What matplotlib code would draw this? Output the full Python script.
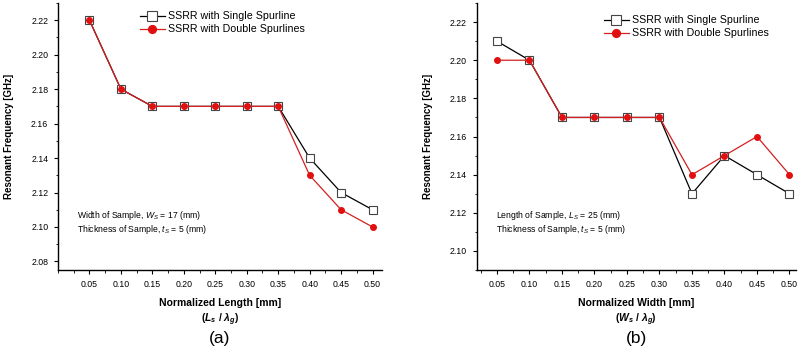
import matplotlib
matplotlib.use("Agg")
import matplotlib.pyplot as plt
from matplotlib.ticker import MultipleLocator, FormatStrFormatter

plt.rcParams['font.family'] = ['Liberation Sans', 'DejaVu Sans']
plt.rcParams['mathtext.fontset'] = 'custom'
plt.rcParams['mathtext.it'] = 'Liberation Sans:italic'
plt.rcParams['mathtext.bf'] = 'Liberation Sans:bold:italic'
plt.rcParams['mathtext.rm'] = 'Liberation Sans'

x_vals = [0.05, 0.10, 0.15, 0.20, 0.25, 0.30, 0.35, 0.40, 0.45, 0.50]
a_single = [2.22, 2.18, 2.17, 2.17, 2.17, 2.17, 2.17, 2.14, 2.12, 2.11]
a_double = [2.22, 2.18, 2.17, 2.17, 2.17, 2.17, 2.17, 2.13, 2.11, 2.10]
b_single = [2.21, 2.20, 2.17, 2.17, 2.17, 2.17, 2.13, 2.15, 2.14, 2.13]
b_double = [2.20, 2.20, 2.17, 2.17, 2.17, 2.17, 2.14, 2.15, 2.16, 2.14]
legend_labels = ["SSRR with Single Spurline", "SSRR with Double Spurlines"]

fig = plt.figure(figsize=(8.0, 3.53), dpi=100)
axA = fig.add_axes([0.0725, 0.235, 0.405, 0.7565])
axB = fig.add_axes([0.596, 0.235, 0.399, 0.7565])


def draw(ax, single, double, xlim, ylim, yticks_major, xlabel, sublabel, panel, notes, note_x, leg_anchor):
    ax.plot(x_vals, single, color='black', lw=0.9, marker='s', ms=5.5,
            mfc='white', mec='#444444', mew=0.8, label=legend_labels[0], zorder=2)
    ax.plot(x_vals, double, color='#d42020', lw=0.9, marker='o', ms=4,
            mfc='#e01010', mec='#e01010', label=legend_labels[1], zorder=3)
    ax.set_xlim(*xlim)
    ax.set_ylim(*ylim)
    ax.xaxis.set_minor_locator(MultipleLocator(0.025))
    ax.yaxis.set_minor_locator(MultipleLocator(0.01))
    ax.set_xticks(x_vals)
    ax.set_yticks(yticks_major)
    ax.xaxis.set_major_formatter(FormatStrFormatter('%.2f'))
    ax.yaxis.set_major_formatter(FormatStrFormatter('%.2f'))
    for s in ['top', 'right']:
        ax.spines[s].set_visible(False)
    for s in ['left', 'bottom']:
        ax.spines[s].set_linewidth(1.0)
    ax.tick_params(which='major', direction='out', length=3, width=0.8, labelsize=6.3, colors='black', pad=4)
    ax.tick_params(which='minor', direction='out', length=1.8, width=0.6)
    ax.set_ylabel("Resonant Frequency [GHz]", fontsize=7, fontweight='bold', labelpad=12)
    ax.text(0.5, -0.105, xlabel, transform=ax.transAxes, ha='center', va='top',
            fontsize=7.5, fontweight='bold')
    ax.text(0.5, -0.155, sublabel, transform=ax.transAxes, ha='center', va='top',
            fontsize=7.5, fontweight='bold')
    ax.text(0.5, -0.228, panel, transform=ax.transAxes, ha='center', va='top',
            fontsize=12.5)
    ax.text(note_x, 0.205, notes[0], transform=ax.transAxes, ha='left', va='center', fontsize=6.2)
    ax.text(note_x, 0.152, notes[1], transform=ax.transAxes, ha='left', va='center', fontsize=6.2)
    ax.legend(loc='upper left', bbox_to_anchor=leg_anchor, frameon=False, fontsize=7.7,
              handlelength=2.3, handletextpad=0.3, labelspacing=0.3, markerscale=1.4,
              borderaxespad=0)


draw(axA, a_single, a_double, (0.0, 0.515), (2.075, 2.230),
     [2.08, 2.10, 2.12, 2.14, 2.16, 2.18, 2.20, 2.22],
     "Normalized Length [mm]", r"($\mathbf{L_{s}}$ / $\mathbf{\lambda_{g}}$)", "(a)",
     [r"Width of Sample, $\mathit{W_S}$ = 17 (mm)", r"Thickness of Sample, $\mathit{t_S}$ = 5 (mm)"],
     0.06, (0.24, 0.985))
draw(axB, b_single, b_double, (0.019, 0.51), (2.090, 2.230),
     [2.10, 2.12, 2.14, 2.16, 2.18, 2.20, 2.22],
     "Normalized Width [mm]", r"($\mathbf{W_{s}}$ / $\mathbf{\lambda_{g}}$)", "(b)",
     [r"Length of Sample, $\mathit{L_S}$ = 25 (mm)", r"Thickness of Sample, $\mathit{t_S}$ = 5 (mm)"],
     0.06, (0.385, 0.97))

fig.savefig("out.png", dpi=100)
